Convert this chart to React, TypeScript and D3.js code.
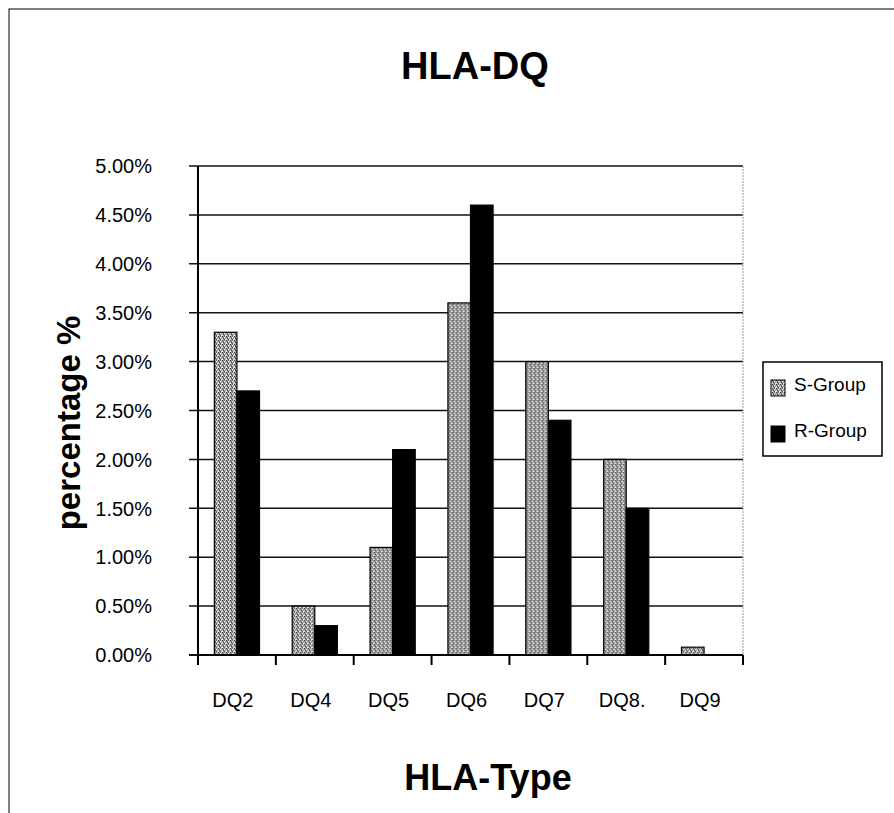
import React from 'react';
import * as d3 from 'd3';

const categories = ['DQ2', 'DQ4', 'DQ5', 'DQ6', 'DQ7', 'DQ8.', 'DQ9'];
const seriesNames = ['S-Group', 'R-Group'];
const sGroup = [0.033, 0.005, 0.011, 0.036, 0.03, 0.02, 0.0008];
const rGroup = [0.027, 0.003, 0.021, 0.046, 0.024, 0.015, 0];
const yTicks = [0, 0.005, 0.01, 0.015, 0.02, 0.025, 0.03, 0.035, 0.04, 0.045, 0.05];

const W = 894;
const H = 813;
const plot = { left: 198, right: 743, top: 166, bottom: 655 };
const font = '"Liberation Sans", Arial, sans-serif';

// halftone-ish dots for the grey bars (scanned print look)
const dots: [number, number, string][] = [
    [0, 0, '#3a3a3a'], [2, 1, '#f2f2f2'], [1, 2, '#4a4a4a'], [3, 3, '#e8e8e8'],
    [3, 0, '#d0d0d0'], [1, 1, '#6a6a6a'], [0, 3, '#e0e0e0'], [2, 3, '#555'],
    [2, 0, '#777'], [0, 2, '#c8c8c8'],
];

export default function App() {
    const x0 = d3.scaleBand<string>().domain(categories).range([plot.left, plot.right]);
    const bw = x0.bandwidth();
    const pad = bw * 0.21;
    const x1 = d3.scaleBand<string>().domain(seriesNames).range([pad, bw - pad]);
    const y = d3.scaleLinear().domain([0, 0.05]).range([plot.bottom, plot.top]);
    const fmt = d3.format('.2%');

    const rows = categories.map((c, i) => ({ c, values: [sGroup[i], rGroup[i]] }));
    const fills = ['url(#sgrp)', '#000'];

    return (
        <svg width={W} height={H} style={{ position: 'absolute', left: 0, top: 0, background: '#fff' }}
            fontFamily={font}>
            <defs>
                <pattern id="sgrp" width={4} height={4} patternUnits="userSpaceOnUse">
                    <rect width={4} height={4} fill="#a2a2a2" />
                    {dots.map(([dx, dy, col], k) => (
                        <rect key={k} x={dx} y={dy} width={1} height={1} fill={col} />
                    ))}
                </pattern>
            </defs>

            <rect x={9} y={9} width={W} height={H} fill="none" stroke="#000" strokeWidth={1} />

            <text x={475} y={79} textAnchor="middle" fontSize={38} fontWeight="bold">HLA-DQ</text>

            {/* grid */}
            {yTicks.map((t) => (
                <line key={`g-${t}`} x1={plot.left - 9} x2={plot.right} y1={y(t)} y2={y(t)}
                    stroke="#111" strokeWidth={t === 0 ? 2 : 1.5} />
            ))}
            <line x1={plot.right} x2={plot.right} y1={plot.top} y2={plot.bottom}
                stroke="#999" strokeWidth={1} strokeDasharray="2 1" />

            {/* bars */}
            {rows.map((r) => (
                <g key={r.c} transform={`translate(${x0(r.c)},0)`}>
                    {r.values.map((v, j) => (
                        v > 0 ? (
                            <rect key={j} x={x1(seriesNames[j])} y={y(v)} width={x1.bandwidth()}
                                height={y(0) - y(v)} fill={fills[j]} stroke="#000" strokeWidth={1.2} />
                        ) : null
                    ))}
                </g>
            ))}

            {/* axes */}
            <line x1={plot.left} x2={plot.left} y1={plot.top} y2={plot.bottom + 1} stroke="#000" strokeWidth={2} />
            <line x1={plot.left} x2={plot.right} y1={plot.bottom} y2={plot.bottom} stroke="#000" strokeWidth={2} />
            {categories.concat(['']).map((c, i) => {
                const xx = plot.left + i * bw;
                return <line key={`xt-${i}`} x1={xx} x2={xx} y1={plot.bottom} y2={plot.bottom + 10} stroke="#000" strokeWidth={2} />;
            })}
            {yTicks.map((t) => (
                <text key={`yl-${t}`} x={152} y={y(t) + 2} textAnchor="end" fontSize={20} dominantBaseline="middle">
                    {fmt(t)}
                </text>
            ))}
            {categories.map((c) => (
                <text key={`xl-${c}`} x={(x0(c) ?? 0) + bw / 2 - 4} y={707} textAnchor="middle" fontSize={20}>{c}</text>
            ))}

            <text x={488} y={790} textAnchor="middle" fontSize={36} fontWeight="bold">HLA-Type</text>
            <text transform="translate(80,423) rotate(-90)" textAnchor="middle" fontSize={33} fontWeight="bold">percentage %</text>

            {/* legend */}
            <rect x={763} y={362} width={119} height={94} fill="#fff" stroke="#000" strokeWidth={1.5} />
            {seriesNames.map((s, j) => (
                <g key={s} transform={`translate(0,${j * 46})`}>
                    <rect x={771} y={380} width={14} height={16} fill={fills[j]} stroke="#000" strokeWidth={1} />
                    <text x={794} y={391} fontSize={19}>{s}</text>
                </g>
            ))}
        </svg>
    );
}
